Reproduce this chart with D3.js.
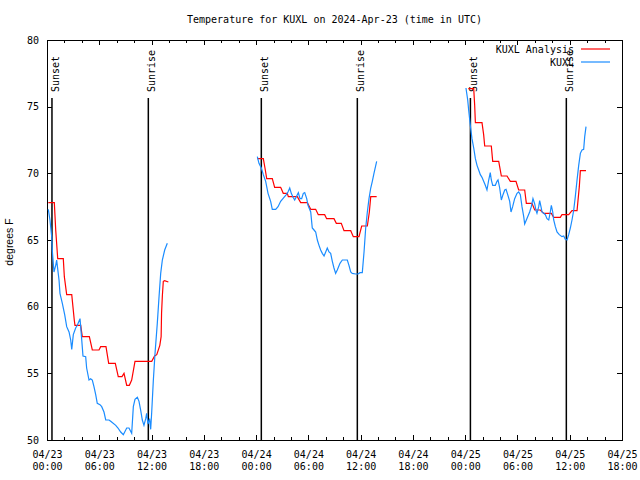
<!DOCTYPE html>
<html>
<head>
<meta charset="utf-8">
<script src="https://cdn.jsdelivr.net/npm/d3@7"></script>
<style>
  body { margin: 0; background: #fff; }
  text { font-family: "DejaVu Sans Mono", monospace; font-size: 10px; fill: #000; }
</style>
</head>
<body>
<script>
// hours after 2024-04-23 00:00 UTC, null = gap between days
let analysisHours = [
  0.15, 0.84, 1.0, 1.23, 1.87, 1.99, 2.26, 2.84, 3.13, 3.21, 3.87, 4.05, 4.86, 5.2, 5.97, 6.16, 6.77, 7.08,
  7.84, 8.18, 8.61, 8.84, 9.15, 9.45, 9.72, 10.1, 12.02, 12.35, 12.6, 12.95, 13.1, 13.15, 13.24, 13.35, 13.5, 13.93,
  null,
  24.14, 24.83, 25.02, 25.22, 25.86, 26.13, 26.82, 27.12, 27.58, 27.7, 28.73, 29.12, 29.88, 30.27, 30.84, 31.14,
  31.87, 32.1, 32.94, 33.21, 33.78, 34.09, 34.86, 35.16, 35.81, 36.12, 36.77, 37.0, 37.16, 37.84,
  null,
  48.36, 48.98, 49.09, 49.17, 49.93, 50.12, 50.24, 51.0, 51.16, 51.85, 52.15, 52.8, 53.18, 53.83, 54.14, 54.83,
  55.02, 55.67, 55.98, 56.62, 57.01, 57.89, 58.16, 58.92, 59.11, 59.88, 60.26, 60.84, 61.1, 61.22, 61.87,
];
let analysisTemps = [
  67.8, 67.8, 65.75, 63.6, 63.6, 62.25, 60.9, 60.9, 59.0, 58.6, 58.6, 57.75, 57.75, 56.75, 56.75, 57.0, 57.0, 55.75,
  55.75, 54.75, 54.75, 55.0, 54.1, 54.1, 54.5, 55.9, 55.9, 56.3, 56.4, 57.1, 57.75, 59.5, 60.8, 61.9, 61.95, 61.85,
  null,
  71.1, 71.1, 70.4, 69.6, 69.6, 68.95, 68.95, 68.5, 68.5, 68.25, 68.25, 67.8, 67.8, 67.3, 67.3, 66.9,
  66.9, 66.6, 66.6, 66.25, 66.25, 65.7, 65.7, 65.25, 65.25, 66.05, 66.05, 67.1, 68.25, 68.25,
  null,
  76.35, 76.35, 75.1, 73.8, 73.8, 72.9, 72.05, 72.05, 70.9, 70.9, 69.8, 69.8, 69.4, 69.4, 68.75, 68.75,
  67.75, 67.75, 67.25, 67.25, 67.0, 67.0, 66.7, 66.7, 66.9, 66.9, 67.2, 67.2, 69.0, 70.2, 70.2,
];

let obsHours = [
  0.15, 0.34, 0.54, 0.61, 0.8, 1.0, 1.11, 1.18, 1.38, 1.49, 1.76, 2.03, 2.26, 2.53, 2.72, 2.84, 3.02, 3.29, 3.48,
  3.79, 3.94, 4.13, 4.44, 4.55, 4.82, 5.01, 5.2, 5.39, 5.59, 5.77, 6.08, 6.28, 6.54, 6.74, 7.12, 7.31, 7.89, 8.15,
  8.46, 8.76, 9.15, 9.41, 9.72, 9.91, 10.1, 10.37, 10.56, 10.76, 10.94, 11.13, 11.33, 11.44, 11.59, 11.78, 11.9,
  12.02, 12.2, 12.4, 12.66, 12.86, 13.05, 13.24, 13.51, 13.81,
  null,
  24.14, 24.33, 24.6, 24.83, 25.1, 25.37, 25.67, 25.86, 26.25, 26.52, 26.82, 27.2, 27.47, 27.66, 27.86, 28.04,
  28.24, 28.43, 28.66, 28.85, 29.04, 29.23, 29.42, 29.58, 29.81, 29.96, 30.27, 30.45, 30.65, 30.84, 31.03, 31.22,
  31.41, 31.6, 31.8, 31.99, 32.17, 32.37, 32.56, 32.75, 32.94, 33.13, 33.32, 33.63, 33.9, 34.47, 34.66, 34.86,
  35.04, 35.43, 35.7, 35.93, 36.19, 36.39, 36.58, 36.77, 36.96, 37.16, 37.34, 37.53, 37.84,
  null,
  48.09, 48.29, 48.4, 48.59, 48.78, 48.98, 49.17, 49.36, 49.55, 49.74, 49.93, 50.12, 50.31, 50.5, 50.7, 50.88,
  51.0, 51.16, 51.46, 51.65, 51.77, 51.96, 52.15, 52.34, 52.54, 52.69, 52.88, 53.11, 53.26, 53.45, 53.68, 53.95,
  54.14, 54.33, 54.52, 54.72, 54.83, 55.02, 55.21, 55.4, 55.59, 55.78, 55.98, 56.13, 56.24, 56.44, 56.55, 56.7,
  56.82, 57.01, 57.2, 57.39, 57.59, 57.77, 57.89, 58.05, 58.16, 58.35, 58.54, 58.8, 59.11, 59.31, 59.49, 59.69,
  59.88, 60.07, 60.26, 60.46, 60.64, 60.84, 61.03, 61.22, 61.41, 61.6, 61.72, 61.87,
];
let obsTemps = [
  67.3, 66.5, 65.25, 64.2, 62.6, 63.1, 63.5, 63.1, 62.0, 61.0, 60.25, 59.4, 58.5, 58.1, 57.5, 56.8, 57.9, 58.4, 58.6,
  59.1, 57.9, 56.3, 56.25, 55.4, 54.5, 54.6, 54.5, 54.0, 53.4, 52.75, 52.65, 52.5, 52.1, 51.5, 51.5, 51.4, 51.1, 50.9,
  50.6, 50.4, 50.9, 50.9, 50.5, 52.5, 53.05, 53.2, 52.9, 52.2, 51.5, 51.1, 51.6, 52.0, 51.2, 51.6, 50.8,
  52.1, 54.4, 56.5, 58.75, 60.75, 62.5, 63.5, 64.25, 64.75,
  null,
  71.25, 70.75, 70.4, 69.9, 69.4, 68.5, 67.9, 67.3, 67.3, 67.5, 67.9, 68.2, 68.4, 68.6, 68.9, 68.5,
  68.2, 68.0, 68.3, 68.55, 68.1, 68.1, 68.5, 68.55, 68.1, 67.6, 67.1, 65.9, 65.75, 65.6, 65.0, 64.6,
  64.25, 64.0, 63.8, 64.1, 64.4, 64.1, 64.0, 63.4, 62.9, 62.5, 62.75, 63.25, 63.5, 63.5, 63.1, 62.6,
  62.5, 62.45, 62.45, 62.55, 62.55, 64.1, 65.9, 67.1, 68.1, 68.9, 69.4, 70.0, 70.9,
  null,
  76.4, 75.5, 74.75, 73.6, 72.6, 71.9, 71.1, 70.6, 70.25, 69.9, 69.7, 69.4, 69.1, 68.75, 69.5, 70.05,
  69.5, 69.1, 69.1, 69.4, 69.5, 68.9, 68.0, 68.4, 68.75, 68.8, 68.4, 67.9, 67.1, 67.5, 68.1, 68.5,
  68.6, 68.4, 67.5, 66.75, 66.2, 66.5, 66.8, 67.1, 67.5, 68.1, 67.7, 67.2, 67.0, 67.5, 67.95, 67.5,
  67.1, 67.0, 66.9, 66.6, 66.5, 67.1, 67.6, 67.1, 66.5, 66.0, 65.6, 65.4, 65.25, 65.3, 65.05, 65.0,
  65.4, 65.9, 66.5, 67.25, 68.25, 69.5, 70.6, 71.5, 71.75, 71.8, 72.75, 73.5,
];

let sunHours = [0.57, 11.63, 24.6, 35.62, 48.6, 59.61];
let sunLabels = ["Sunset", "Sunrise", "Sunset", "Sunrise", "Sunset", "Sunrise"];
let seriesNames = ["KUXL Analysis", "KUXL"];
let seriesColors = ["#ff0000", "#1a8cff"];
let yTicks = [50, 55, 60, 65, 70, 75, 80];
let titleText = "Temperature for KUXL on 2024-Apr-23 (time in UTC)";

let width = 640;
let height = 480;
let mLeft = 47, mRight = 622, mTop = 40, mBottom = 440;
let start = Date.UTC(2024, 3, 23, 0, 0);
let toDate = (h) => new Date(start + h * 3600000);

let xScale = d3.scaleUtc().domain([toDate(0), toDate(66)]).range([mLeft, mRight]);
let yScale = d3.scaleLinear().domain([50, 80]).range([mBottom, mTop]);

let svg = d3.select("body").append("svg").attr("width", width).attr("height", height);

let majorTicks = d3.range(0, 67, 6).map(toDate);
let minorTicks = d3.range(0, 67, 2).map(toDate);

// minor ticks bottom / top
svg.append("g")
  .attr("transform", `translate(0,${mBottom})`)
  .call(d3.axisBottom(xScale).tickValues(minorTicks).tickSizeInner(-3).tickSizeOuter(0).tickFormat(""))
  .call((g) => g.select(".domain").remove());
svg.append("g")
  .attr("transform", `translate(0,${mTop})`)
  .call(d3.axisTop(xScale).tickValues(minorTicks).tickSizeInner(-3).tickSizeOuter(0).tickFormat(""))
  .call((g) => g.select(".domain").remove());

// major ticks with two-line labels
let xAxis = svg.append("g")
  .attr("transform", `translate(0,${mBottom})`)
  .call(d3.axisBottom(xScale).tickValues(majorTicks).tickSizeInner(-5).tickSizeOuter(0).tickFormat(""));
xAxis.select(".domain").remove();
xAxis.selectAll(".tick text").each(function (d) {
  let t = d3.select(this).attr("y", null).attr("dy", null);
  t.append("tspan").attr("x", 0).attr("y", 18).text(d3.utcFormat("%m/%d")(d));
  t.append("tspan").attr("x", 0).attr("y", 30).text(d3.utcFormat("%H:%M")(d));
});
svg.append("g")
  .attr("transform", `translate(0,${mTop})`)
  .call(d3.axisTop(xScale).tickValues(majorTicks).tickSizeInner(-5).tickSizeOuter(0).tickFormat(""))
  .call((g) => g.select(".domain").remove());

let yAxis = svg.append("g")
  .attr("transform", `translate(${mLeft},0)`)
  .call(d3.axisLeft(yScale).tickValues(yTicks).tickSizeInner(-5).tickSizeOuter(0).tickPadding(8));
yAxis.select(".domain").remove();
svg.append("g")
  .attr("transform", `translate(${mRight},0)`)
  .call(d3.axisRight(yScale).tickValues(yTicks).tickSizeInner(-5).tickSizeOuter(0).tickFormat(""))
  .call((g) => g.select(".domain").remove());

// let the css font win over the axis defaults
svg.selectAll("g").attr("font-family", null).attr("font-size", null);
svg.selectAll(".tick line").attr("stroke", "#000").attr("shape-rendering", "crispEdges");

svg.append("rect")
  .attr("x", mLeft).attr("y", mTop)
  .attr("width", mRight - mLeft).attr("height", mBottom - mTop)
  .attr("fill", "none").attr("stroke", "#000")
  .attr("shape-rendering", "crispEdges");

// sunrise / sunset markers
svg.selectAll(".sunline")
  .data(sunHours)
  .enter()
  .append("line")
  .attr("x1", (d) => xScale(toDate(d)))
  .attr("x2", (d) => xScale(toDate(d)))
  .attr("y1", 98)
  .attr("y2", mBottom)
  .attr("stroke", "#000")
  .attr("stroke-width", 1.5);
svg.selectAll(".sunlabel")
  .data(sunHours)
  .enter()
  .append("text")
  .attr("transform", (d) => `translate(${xScale(toDate(d)) + 7},92) rotate(-90)`)
  .text((d, i) => sunLabels[i]);

// series
let line = d3.line()
  .defined((d) => d[1] !== null)
  .x((d) => xScale(toDate(d[0])))
  .y((d) => yScale(d[1]));

let analysis = analysisHours.map((h, i) => [h, analysisTemps[i]]);
let obs = obsHours.map((h, i) => [h, obsTemps[i]]);

[analysis, obs].forEach((data, i) => {
  svg.append("path")
    .datum(data)
    .attr("d", line)
    .attr("fill", "none")
    .attr("stroke", seriesColors[i])
    .attr("stroke-width", 1.2);
});

// legend
seriesNames.forEach((name, i) => {
  let ly = 49 + i * 13;
  svg.append("text")
    .attr("x", 574).attr("y", ly).attr("dy", "0.35em")
    .attr("text-anchor", "end")
    .text(name);
  svg.append("line")
    .attr("x1", 581).attr("x2", 610)
    .attr("y1", ly).attr("y2", ly)
    .attr("stroke", seriesColors[i])
    .attr("stroke-width", 1.2);
});

svg.append("text")
  .attr("x", (mLeft + mRight) / 2).attr("y", 23)
  .attr("text-anchor", "middle")
  .text(titleText);

svg.append("text")
  .attr("transform", `translate(13,242) rotate(-90)`)
  .attr("text-anchor", "middle")
  .style("font-family", "'Liberation Sans', Arial, sans-serif")
  .style("font-size", "10.5px")
  .text("degrees F");
</script>
</body>
</html>
